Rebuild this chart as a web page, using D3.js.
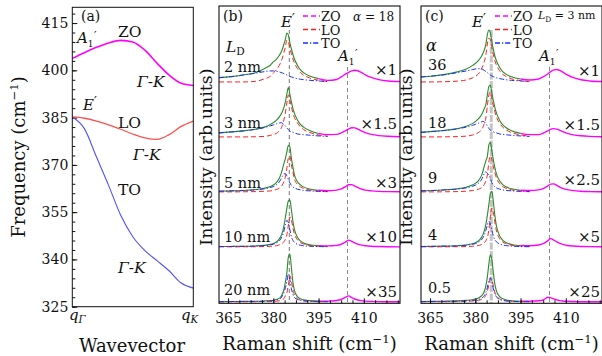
<!DOCTYPE html>
<html><head><meta charset="utf-8">
<script src="https://cdn.jsdelivr.net/npm/d3@7"></script>
<style>
body{margin:0;background:#fff;}
svg{display:block;}
</style></head><body>
<svg width="602" height="356"></svg>
<script>
// ---------------- DATA ----------------
// (a) phonon dispersion along Γ-K (q normalised 0..1)
const wavevector = [0,0.1,0.2,0.3,0.4,0.5,0.6,0.7,0.8,0.9,1.0];
const dispZO = [403.8,405.6,407.3,408.7,409.5,409.0,406.4,402.3,398.5,395.9,395.2];
const dispLO = [385.2,384.8,383.9,382.7,381.3,379.8,378.6,378.1,379.6,382.2,383.9];
const dispTO = [385.2,381.5,372.5,363.5,354,347.2,342.8,339.6,336.4,332.5,330.9];
const freqTicks = [325,340,355,370,385,400,415];
const ramanTicks = [365,380,395,410];
const modeE = 385.3, modeA1 = 404.6;

// Raman shift sample positions (cm^-1)
const gridLT = [362,366,370,374,377,379,380,381,382,382.5,383,383.5,384,384.5,385,385.5,386,386.5,387,388,389,390,392,395,398];
const gridZO = [392,395,398,401,402.5,404,405,406,407,408,409,410.5,412.5,415,418,422];

// (b) alpha = 18, L_D = 2,3,5,10,20 nm (arb. units)
const sizeLabels = ["2 nm","3 nm","5 nm","10 nm","20 nm"];
const sizeFactors = ["×1","×1.5","×3","×10","×35"];
const LO_b = [
 [0,0,0,0.6,3,5.7,9,12,16.7,19.8,23.7,29.4,35,42,40.5,33.5,28,23,19,13.4,9.3,7,4,1.7,0.5],
 [0,0,0,0.2,0.5,1.5,2.3,3.5,6,8,11.5,17,24,34,42,37,30,24,19.5,14,10,7.5,4.5,2,0.8],
 [0,0,0.1,0.3,0.6,1,1.5,2.3,3.7,5,7,10,15,24,34,36,27,20,13,7.5,5,3.5,1.8,0.8,0.3],
 [0,0,0.05,0.1,0.3,0.5,0.7,1.1,2,2.6,3.5,5,7.5,12,22,30,27,19,13,7,4.3,2.8,1.4,0.6,0.3],
 [0,0,0.1,0.15,0.25,0.35,0.4,0.6,1,1.4,2,3,6,9,17,26,21,12,7,3,1.7,1.1,0.6,0.3,0.1]
];
const TO_b = [
 [4.3,5.3,7,8.7,10.3,11,11,10.7,10,9.5,9,8.3,7.7,7,6.3,5.5,5,4.5,4,3.3,2.7,2.3,1.7,1,0.3],
 [4,5,6,7.5,9.3,11,12,13,14,14.3,13.7,12.3,11,9,7.3,5.7,5,4.5,4,3,2.5,2.3,1.7,1,0.5],
 [0.7,1,1.3,2,3,4.3,5.3,7,10,12.5,15.5,18,18.3,16,12.5,9,6.5,5,4,2.7,2,1.5,1,0.5,0.2],
 [0.3,0.4,0.5,0.8,1.2,2,2.6,3.8,6,8,11,15.5,22,26.5,24,17,10,6.5,4.5,2.5,1.6,1.1,0.6,0.3,0.1],
 [0.2,0.25,0.3,0.4,0.6,0.9,1.2,1.7,2.7,3.5,6,9,14,20,28,22,13,7.5,4.5,2.2,1.3,0.9,0.5,0.2,0.1]
];
const ZO_b = [
 [0.3,0.6,0.8,2.5,5,8,9.7,11,11.7,11.2,9.8,7.2,4.5,2.3,1,0.4],
 [0.2,0.5,1,2.5,4,6.3,8,9.2,9,7.8,6.3,4.3,2.5,1.3,0.6,0.2],
 [0.1,0.3,0.7,1.8,3,5.3,7.2,7.3,5.8,4.2,3,1.8,1,0.5,0.2,0.1],
 [0.1,0.3,0.6,1.5,2.6,5,6.7,5.5,4,2.8,1.9,1.1,0.6,0.3,0.1,0],
 [0.1,0.2,0.5,1.3,2.3,4.6,5.9,4.3,2.8,1.8,1.2,0.7,0.4,0.2,0.1,0]
];

// (c) L_D = 3 nm, alpha = 36,18,9,4,0.5
const alphaLabels = ["36","18","9","4","0.5"];
const alphaFactors = ["×1","×1.5","×2.5","×5","×25"];
const LO_c = [
 [0,0,0.3,0.8,2,4,5.5,8,12.5,16,20.5,27,38,44,42,34,27,21,17,11.5,7.8,5.8,3.2,1.3,0.5],
 [0,0,0.1,0.3,0.8,1.8,2.8,4.3,7,9.5,13.5,19,31,42,45,38,31,25,20,14,10,7.5,4.3,2,0.8],
 [0,0,0.1,0.3,0.7,1.3,1.8,2.6,4,5.3,7.5,11,17,30,36,32,25,19,14,8.5,5.5,3.8,2,0.8,0.4],
 [0,0,0.05,0.15,0.3,0.6,0.9,1.3,2.2,3,4.2,6,9.5,17,30,39,34,24,16,8.5,5,3.3,1.6,0.7,0.3],
 [0.1,0.15,0.2,0.3,0.5,0.8,1.1,1.5,2.3,3,4.3,6.5,10.5,17,23,22,15.5,9.5,6,3,1.7,1.1,0.5,0.2,0.1]
];
const TO_c = [
 [5,6,7.3,9.3,11,12.3,13,13.3,13,12.5,11.5,10.5,9.3,8,7,6,5.3,4.7,4.2,3.4,2.8,2.3,1.6,1,0.4],
 [4.5,5.5,6.5,8,9.8,11.5,12.5,13.7,15,15.5,15,13.3,11,8.5,6.7,5.7,5,4.4,4,3,2.5,2.2,1.6,1,0.5],
 [1,1.4,2,2.8,4,5.5,6.7,8.5,12,15,18.5,20,18.5,17,13.5,9,6.5,5,4,2.8,2,1.5,1,0.5,0.2],
 [0.3,0.5,0.7,1,1.6,2.5,3.2,4.5,7,9,12,16.5,22,25.5,23,16.5,10.5,7,5,3,1.9,1.3,0.7,0.3,0.1],
 [0.2,0.3,0.4,0.6,0.9,1.3,1.7,2.3,3.5,4.5,6.3,9.5,14.5,21,24,20,13,8,5,2.5,1.5,1,0.5,0.2,0.1]
];
const ZO_c = [
 [0.3,0.6,1,3,5,8,10.3,12,12.5,11.5,9.8,7,4.3,2.2,1,0.4],
 [0.2,0.5,1,2.3,3.8,6,7.7,8.3,7.8,6.6,5.3,3.6,2.1,1.1,0.5,0.2],
 [0.1,0.3,0.8,2,3.3,5.8,7.8,8,6.5,4.8,3.5,2.2,1.2,0.6,0.3,0.1],
 [0.1,0.3,0.7,1.8,3.1,6,8.2,6.8,5,3.5,2.4,1.4,0.8,0.4,0.2,0.1],
 [0.1,0.2,0.4,1,1.8,4.6,4.0,3,1.9,1.2,0.8,0.5,0.3,0.1,0.05,0]
];
const stackOffsets = [220,165,110,55,0];

// ---------------- DRAWING ----------------
const svg = d3.select("svg");
const FONT = "'DejaVu Serif', 'Liberation Serif', serif";
const INK = "#111";
const C_ZO = "#ff00ff", C_LO = "#ff2020", C_TO = "#1a2cff", C_TOT = "#2a8c2a";

function rich(parent, x, y, size, segs, opts = {}) {
  const t = parent.append("text").attr("x", x).attr("y", y)
    .attr("font-size", size).attr("font-family", FONT).attr("fill", INK);
  if (opts.anchor) t.attr("text-anchor", opts.anchor);
  if (opts.rotate) t.attr("transform", `rotate(${opts.rotate},${x},${y})`);
  let cur = 0;
  segs.forEach(s => {
    if (typeof s === "string") s = {t: s};
    const sh = s.sh || 0;
    const ts = t.append("tspan").text(s.t).attr("dy", sh - cur);
    cur = sh;
    if (s.it) ts.attr("font-style", "italic");
    if (s.sz) ts.attr("font-size", size * s.sz);
    if (s.dx) ts.attr("dx", s.dx);
  });
  return t;
}
function styleAxis(g, size) {
  g.attr("font-family", FONT).attr("font-size", size);
  g.select(".domain").remove();
  g.selectAll("text").attr("fill", INK);
  g.selectAll("line").attr("stroke", INK);
}
// A1' label: italic A, subscript 1, prime
const a1Segs = [{t:"A", it:true}, {t:"1", sz:0.6, sh:3.5}, {t:"′", sz:0.75, sh:-4, dx:0.5}];

// ---------- panel (a) ----------
const gA = svg.append("g");
const xa = d3.scaleLinear().domain([0, 1]).range([72.3, 193.3]);
const ya = d3.scaleLinear().domain([325, 420]).range([306.7, 7.3]);

gA.append("g").attr("transform", `translate(${xa(0)},0)`)
  .call(d3.axisLeft(ya).tickValues(d3.range(325, 421, 3)).tickSize(-3).tickFormat(""))
  .call(g => styleAxis(g, 14));
gA.append("g").attr("transform", `translate(${xa(0)},0)`)
  .call(d3.axisLeft(ya).tickValues(freqTicks).tickSize(-5).tickPadding(4))
  .call(g => styleAxis(g, 14));

const lineA = d3.line().x((d, i) => xa(wavevector[i])).y(d => ya(d)).curve(d3.curveMonotoneX);
gA.append("path").attr("d", lineA(dispTO)).attr("fill", "none").attr("stroke", "#5050ff").attr("stroke-width", 1.1);
gA.append("path").attr("d", lineA(dispLO)).attr("fill", "none").attr("stroke", "#ff5050").attr("stroke-width", 1.3);
gA.append("path").attr("d", lineA(dispZO)).attr("fill", "none").attr("stroke", C_ZO).attr("stroke-width", 1.6);

gA.append("rect").attr("x", xa(0)).attr("y", ya(420)).attr("width", xa(1) - xa(0)).attr("height", ya(325) - ya(420))
  .attr("fill", "none").attr("stroke", INK).attr("stroke-width", 1);

rich(gA, 81, 21, 14, ["(a)"]);
rich(gA, 77, 43, 15, a1Segs);
rich(gA, 118, 37, 15.5, ["ZO"]);
rich(gA, 137, 87, 15.5, [{t:"Γ", it:true}, "-", {t:"K", it:true}]);
rich(gA, 83, 110, 15, [{t:"E", it:true}, {t:"′", sz:0.85, sh:-4}]);
rich(gA, 118, 127.5, 15.5, ["LO"]);
rich(gA, 133, 159.5, 15.5, [{t:"Γ", it:true}, "-", {t:"K", it:true}]);
rich(gA, 118, 195, 15.5, ["TO"]);
rich(gA, 118, 272.5, 15.5, [{t:"Γ", it:true}, "-", {t:"K", it:true}]);
rich(gA, 69, 320, 15, [{t:"q", it:true}, {t:"Γ", it:true, sz:0.68, sh:3}]);
rich(gA, 181, 320, 15, [{t:"q", it:true}, {t:"K", it:true, sz:0.68, sh:3}]);
rich(gA, 132, 352, 18, ["Wavevector"], {anchor:"middle"});
rich(gA, 25, 157, 18, ["Frequency (cm", {t:"−1", sz:0.65, sh:-7}, ")"], {anchor:"middle", rotate:-90});

// ---------- spectra panels ----------
const unionGrid = Array.from(new Set([...gridLT, ...gridZO])).sort((a, b) => a - b);

function spectraPanel(x0, LO, TO, ZO, cfg) {
  const g = svg.append("g");
  const xs = d3.scaleLinear().domain([362, 422]).range([x0, x0 + 181]);
  const ys = d3.scaleLinear().domain([-1.5, 296]).range([303.3, 6]);

  // guide lines at E' and A1'
  g.append("line").attr("x1", xs(modeE)).attr("x2", xs(modeE)).attr("y1", 30).attr("y2", ys(-1.5))
    .attr("stroke", cfg.eColor).attr("stroke-width", cfg.eWidth).attr("stroke-dasharray", cfg.eDash);
  g.append("line").attr("x1", xs(modeA1)).attr("x2", xs(modeA1)).attr("y1", 67).attr("y2", ys(-1.5))
    .attr("stroke", "#8a8a8a").attr("stroke-width", 1).attr("stroke-dasharray", "4,3");

  LO.forEach((lo, k) => {
    const off = stackOffsets[k];
    const to = TO[k], zo = ZO[k];
    const tot = unionGrid.map(u => {
      const i = gridLT.indexOf(u), j = gridZO.indexOf(u);
      return {x: u, v: (i >= 0 ? lo[i] + to[i] : 0) + (j >= 0 ? zo[j] : 0)};
    });
    const ln = d3.line().x(d => xs(d.x)).y(d => ys(off + d.v)).curve(d3.curveMonotoneX);
    const lnLT = arr => d3.line().x((d, i) => xs(gridLT[i])).y(d => ys(off + d)).curve(d3.curveMonotoneX)(arr);
    g.append("path").attr("d", ln(tot.filter(d => d.x <= 395))).attr("fill", "none")
      .attr("stroke", C_TOT).attr("stroke-width", 1.1);
    g.append("path").attr("d", ln(tot.filter(d => d.x >= 395))).attr("fill", "none")
      .attr("stroke", C_ZO).attr("stroke-width", 1.4);
    g.append("path").attr("d", lnLT(lo)).attr("fill", "none")
      .attr("stroke", C_LO).attr("stroke-width", 1).attr("stroke-dasharray", "5,3");
    g.append("path").attr("d", lnLT(to)).attr("fill", "none")
      .attr("stroke", C_TO).attr("stroke-width", 1).attr("stroke-dasharray", "5,2,1.2,2");
    // row labels
    rich(g, x0 + cfg.labelDx, cfg.labelY[k], 14.5, [cfg.labels[k]]);
    rich(g, x0 + cfg.factorDx, cfg.factorY[k], 15, [cfg.factors[k]], {anchor:"end"});
  });

  // axis
  const minor = d3.range(365 - 3.75, 422.01, 3.75).filter(v => v >= 362);
  g.append("g").attr("transform", `translate(0,${ys(-1.5)})`)
    .call(d3.axisBottom(xs).tickValues(minor).tickSize(-3).tickFormat(""))
    .call(a => styleAxis(a, 14));
  g.append("g").attr("transform", `translate(0,${ys(-1.5)})`)
    .call(d3.axisBottom(xs).tickValues(ramanTicks).tickSize(-5).tickPadding(9.5))
    .call(a => styleAxis(a, 14));
  g.append("rect").attr("x", xs(362)).attr("y", ys(296)).attr("width", xs(422) - xs(362))
    .attr("height", ys(-1.5) - ys(296)).attr("fill", "none").attr("stroke", INK).attr("stroke-width", 1.1);

  // legend
  const legend = [["ZO", C_ZO, "5,3"], ["LO", C_LO, "5,3"], ["TO", C_TO, "5,2,1.2,2"]];
  legend.forEach((d, i) => {
    const yy = 16 + i * 13.5;
    g.append("line").attr("x1", cfg.legX).attr("x2", cfg.legX + 17).attr("y1", yy).attr("y2", yy)
      .attr("stroke", d[1]).attr("stroke-width", 1.3).attr("stroke-dasharray", d[2]);
    rich(g, cfg.legX + 18, yy + 5, 13, [d[0]]);
  });

  rich(g, x0 + 4, 21, 14, [cfg.tag]);
  rich(g, cfg.eX, 27, 15, [{t:"E", it:true}, {t:"′", sz:0.85, sh:-4}]);
  rich(g, cfg.aX, 61, 15, a1Segs);
  cfg.extra(g);
  rich(g, x0 + 90.5, 350, 18, ["Raman shift (cm", {t:"−1", sz:0.65, sh:-7}, ")"], {anchor:"middle"});
  rich(g, cfg.yTitleX, 157, 17.5, ["Intensity (arb.units)"], {anchor:"middle", rotate:-90});
}

spectraPanel(219, LO_b, TO_b, ZO_b, {
  tag: "(b)", labels: sizeLabels, factors: sizeFactors,
  labelDx: 5, labelY: [72, 128, 188, 242, 295],
  factorDx: 178, factorY: [75, 129, 188, 242, 297],
  eColor: "#777", eWidth: 1, eDash: "4,3",
  legX: 303, eX: 281, aX: 338, yTitleX: 212,
  extra: g => {
    rich(g, 353, 21, 12, [{t:"α", it:true}, " = 18"]);
    rich(g, 226, 52, 15.5, [{t:"L", it:true}, {t:"D", sz:0.68, sh:3}]);
  }
});
spectraPanel(421, LO_c, TO_c, ZO_c, {
  tag: "(c)", labels: alphaLabels, factors: alphaFactors,
  labelDx: 7, labelY: [70, 128, 183, 240, 293],
  factorDx: 179, factorY: [76, 130, 185, 242, 297],
  eColor: "#c4c4c4", eWidth: 3, eDash: "7,1.5",
  legX: 495, eX: 472, aX: 539, yTitleX: 412,
  extra: g => {
    rich(g, 538, 19, 11, [{t:"L", it:true}, {t:"D", sz:0.68, sh:2.5}, " = 3 nm"]);
    rich(g, 426, 51, 16, [{t:"α", it:true}]);
  }
});
</script>
</body></html>
